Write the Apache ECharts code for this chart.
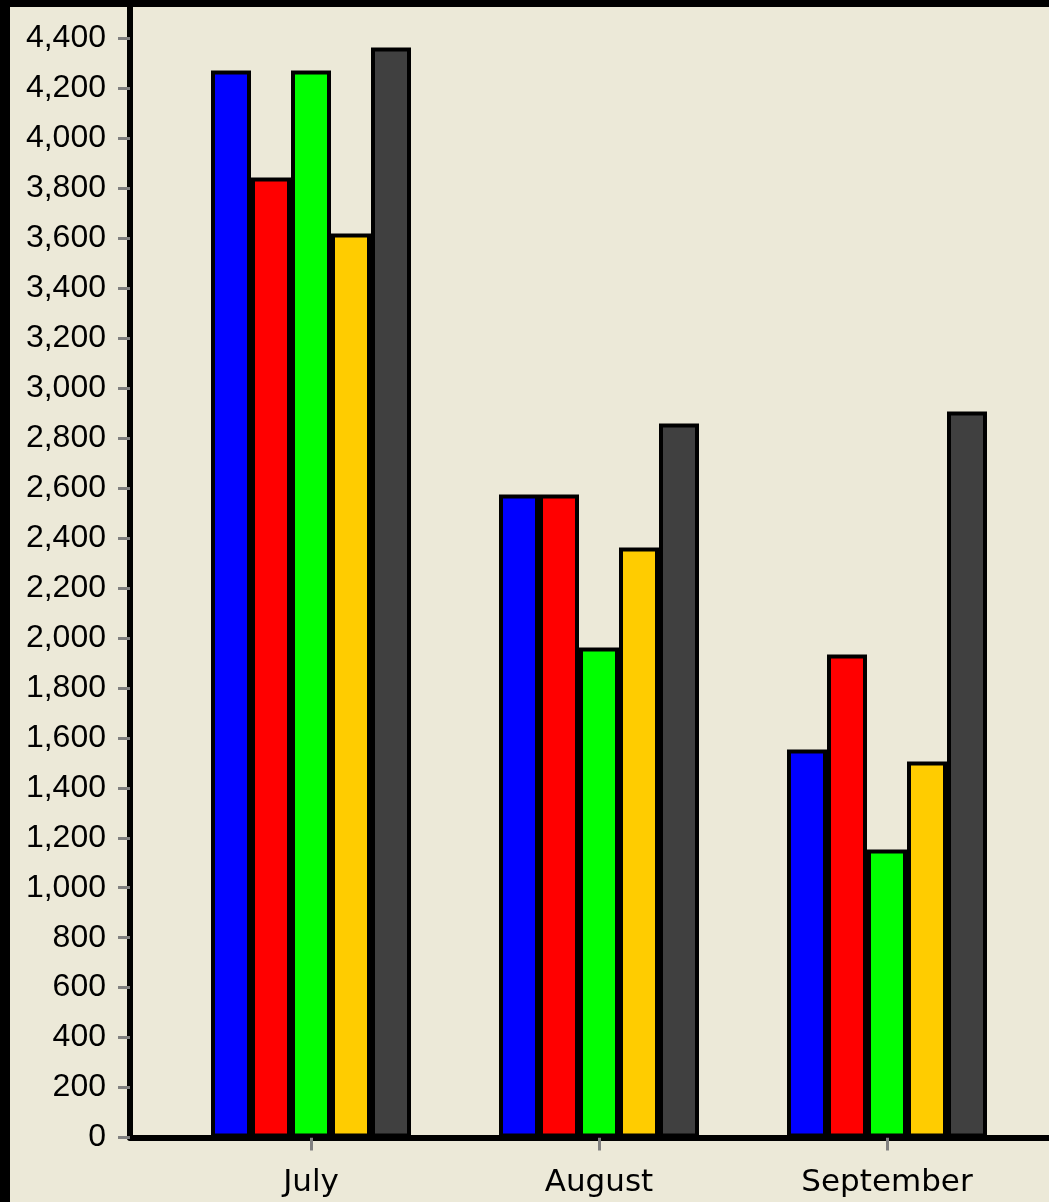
<!DOCTYPE html>
<html>
<head>
<meta charset="utf-8">
<script src="https://cdn.jsdelivr.net/npm/echarts@6/dist/echarts.min.js"></script>
<style>
  html, body { margin: 0; padding: 0; background: #ECE9D8; }
  #chart { width: 1049px; height: 1202px; }
</style>
</head>
<body>
<div id="chart"></div>
<script>
// Monthly values for five series
const months = ['July', 'August', 'September'];
const seriesBlue = [4272, 2574, 1553];
const seriesRed = [3843, 2574, 1934];
const seriesGreen = [4272, 1962, 1153];
const seriesYellow = [3619, 2362, 1505];
const seriesGray = [4364, 2859, 2907];
const seriesColors = ['#0000FF', '#FF0000', '#00FF00', '#FFCC00', '#404040'];
const yTickStep = 200;

const Y_MAX = 4554;
const GRID_TOP = 0;
const GRID_BOTTOM = 64.5;

const chart = echarts.init(document.getElementById('chart'), null, { renderer: 'canvas' });

const allSeries = [seriesBlue, seriesRed, seriesGreen, seriesYellow, seriesGray];

chart.setOption({
  backgroundColor: '#ECE9D8',
  animation: false,
  grid: [
    // frame grid: carries the value axis and the full-width baseline
    { left: 130, right: 0, top: GRID_TOP, bottom: GRID_BOTTOM },
    // plot grid: holds the bars and month labels
    { left: 167, right: 18, top: GRID_TOP, bottom: GRID_BOTTOM }
  ],
  xAxis: [
    {
      gridIndex: 0, type: 'value', min: 0, max: 1,
      axisLine: { show: true, lineStyle: { color: '#000', width: 6 } },
      axisTick: { show: false }, axisLabel: { show: false }, splitLine: { show: false }
    },
    {
      gridIndex: 1, type: 'category', data: months,
      axisLine: { show: false },
      axisTick: { show: true, alignWithLabel: true, length: 13, lineStyle: { color: '#808080', width: 3 } },
      axisLabel: {
        color: '#000', fontFamily: 'DejaVu Sans', fontSize: 31, margin: 30
      },
      splitLine: { show: false }
    }
  ],
  yAxis: [
    {
      gridIndex: 0, type: 'value', min: 0, max: Y_MAX, interval: yTickStep,
      axisLine: { show: true, lineStyle: { color: '#000', width: 6 } },
      axisTick: { show: true, length: 12, lineStyle: { color: '#808080', width: 3 } },
      axisLabel: {
        color: '#000', fontFamily: 'Liberation Sans', fontSize: 32, margin: 24,
        showMaxLabel: false,
        formatter: v => v.toLocaleString('en-US')
      },
      splitLine: { show: false }
    },
    {
      gridIndex: 1, type: 'value', min: 0, max: Y_MAX, show: false
    }
  ],
  series: allSeries.map((vals, i) => ({
    type: 'bar',
    xAxisIndex: 1,
    yAxisIndex: 1,
    data: vals,
    barWidth: 40,
    barGap: '0%',
    itemStyle: { color: seriesColors[i], borderColor: '#000', borderWidth: 4 },
    z: 1
  })),
  graphic: [
    { type: 'rect', left: 0, top: 0, shape: { width: 10, height: 1202 }, style: { fill: '#000' }, z: 100 },
    { type: 'rect', left: 0, top: 0, shape: { width: 1049, height: 7 }, style: { fill: '#000' }, z: 100 }
  ]
});
</script>
</body>
</html>
